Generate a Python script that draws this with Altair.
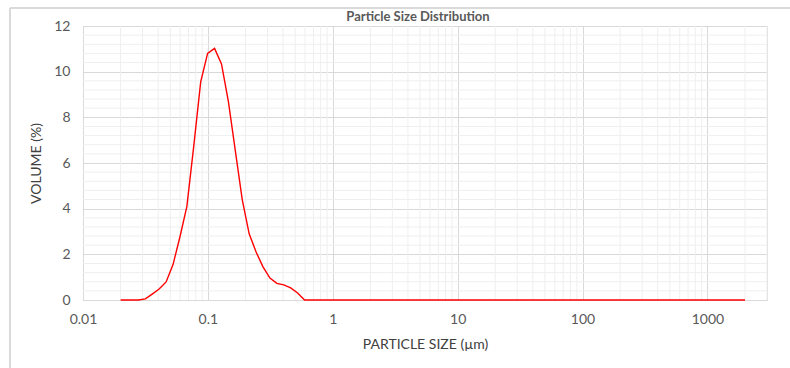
import altair as alt
import pandas as pd

# Particle size (µm) and volume (%)
sizes = [0.02, 0.0244, 0.0278, 0.0316, 0.0358, 0.0407, 0.0463, 0.0526, 0.0597,
         0.0679, 0.0771, 0.0876, 0.0995, 0.1131, 0.1285, 0.1459, 0.1659, 0.1884,
         0.2141, 0.2432, 0.2763, 0.3140, 0.3567, 0.4053, 0.4604, 0.5231, 0.5944,
         2000]
volumes = [0, 0, 0, 0.05, 0.26, 0.48, 0.79, 1.55, 2.76,
           4.1, 6.75, 9.55, 10.8, 11.02, 10.34, 8.7, 6.53, 4.4,
           2.9, 2.1, 1.45, 0.96, 0.73, 0.66, 0.53, 0.31, 0,
           0]

x_major = [0.01, 0.1, 1, 10, 100, 1000]
y_major = [0, 2, 4, 6, 8, 10, 12]
x_minor = [m * 10.0 ** e for e in range(-2, 4) for m in range(2, 10) if m * 10.0 ** e <= 3000]
y_minor = [round(i * 0.4, 1) for i in range(1, 30) if i % 5 != 0]

df = pd.DataFrame({"size": sizes, "volume": volumes})

FONT = "Lato"
TXT = "#595959"
GRID_MAJOR = "#d9d9d9"
GRID_MINOR = "#efefef"

x_scale = alt.Scale(type="log", domain=[0.01, 3000], nice=False)
y_scale = alt.Scale(domain=[0, 12], nice=False, zero=True)

x_axis = alt.Axis(
    values=x_major, format="~g", title="PARTICLE SIZE (µm)",
    grid=True, gridColor=GRID_MAJOR, ticks=False, domain=False,
    labelPadding=12, titlePadding=11, labelFlush=False,
)
y_axis = alt.Axis(
    values=y_major, title="VOLUME (%)",
    grid=True, gridColor=GRID_MAJOR, ticks=False, domain=False,
    labelPadding=13, titlePadding=10,
)

minor_x = alt.Chart(pd.DataFrame({"size": x_minor})).mark_rule(
    color=GRID_MINOR, strokeWidth=1
).encode(x=alt.X("size:Q", scale=x_scale, axis=x_axis))

minor_y = alt.Chart(pd.DataFrame({"volume": y_minor})).mark_rule(
    color=GRID_MINOR, strokeWidth=1
).encode(y=alt.Y("volume:Q", scale=y_scale, axis=y_axis))

line = alt.Chart(df).mark_line(color="#ff0000", strokeWidth=1.4).encode(
    x=alt.X("size:Q", scale=x_scale, axis=x_axis),
    y=alt.Y("volume:Q", scale=y_scale, axis=y_axis),
)

# light frame of the chart area
frame_v = alt.Chart(df).mark_rule(color="#d9d9d9", strokeWidth=1).encode(
    x=alt.value(-73), y=alt.value(-18), y2=alt.value(400)
)
frame_h = alt.Chart(df).mark_rule(color="#d9d9d9", strokeWidth=1).encode(
    x=alt.value(-73), x2=alt.value(760), y=alt.value(-18)
)

chart = alt.layer(minor_x, minor_y, line, frame_v, frame_h).properties(
    width=684,
    height=274,
    background="white",
    title=alt.TitleParams(
        "Particle Size Distribution", font=FONT, fontSize=13, fontWeight="bold",
        color=TXT, anchor="middle", offset=2, dx=-7, dy=18,
    ),
    autosize=alt.AutoSizeParams(type="none"),
    padding={"left": 83, "top": 26, "right": 23, "bottom": 68},
).configure_view(
    stroke=GRID_MAJOR, strokeWidth=1
).configure_axis(
    labelFont=FONT, labelFontSize=14, labelColor=TXT,
    titleFont=FONT, titleFontSize=14, titleFontWeight="normal", titleColor="#404040",
)

chart.save("out.html", embed_options={"renderer": "svg", "actions": False})
